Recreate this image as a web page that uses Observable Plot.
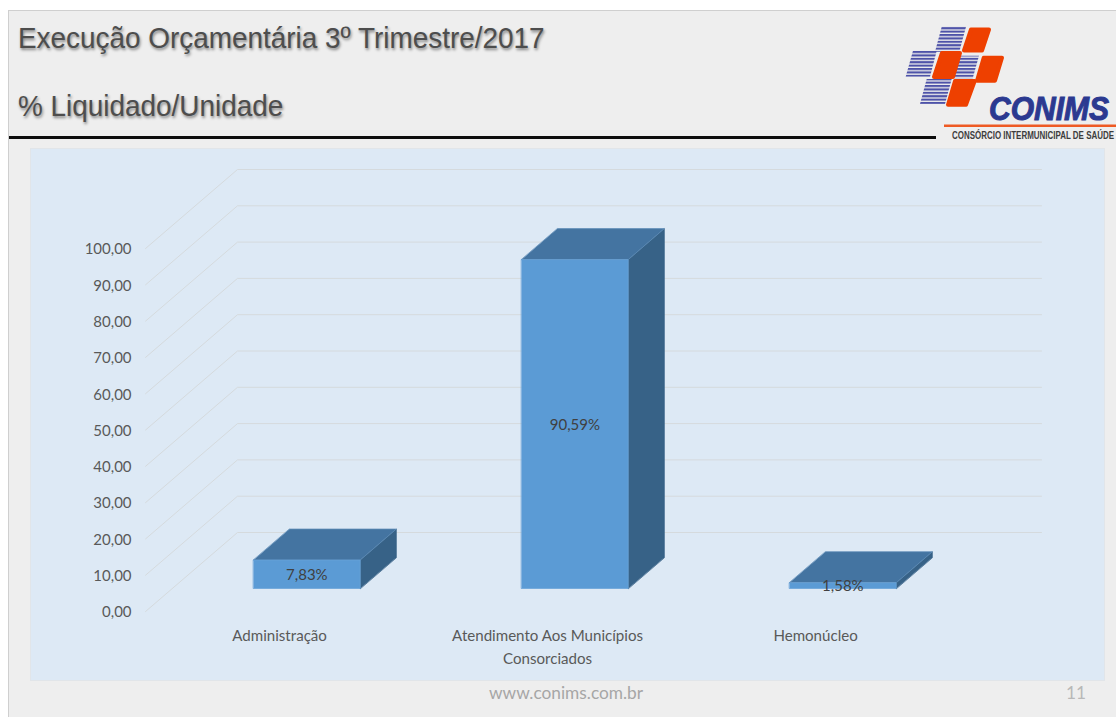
<!DOCTYPE html>
<html lang="pt-BR">
<head>
<meta charset="utf-8">
<script src="https://cdn.jsdelivr.net/npm/d3@7"></script>
<script src="https://cdn.jsdelivr.net/npm/@observablehq/plot@0.6"></script>
<style>
  html, body { margin: 0; padding: 0; background: #fff; }
  #slide { position: relative; width: 1116px; height: 717px; overflow: hidden; background: #fff; }
  #bg { position: absolute; left: 8px; top: 10px; right: -2px; bottom: -2px; background: #eeeeee; border: 1px solid #cfcfcf; }
  #rule { position: absolute; left: 9px; top: 136px; width: 927px; height: 3px; background: #0c0c0c; }
  #panel { position: absolute; left: 30px; top: 148px; width: 1073px; height: 531px; background: #dde9f5; border: 1px solid #e1e5e9; }
  .title { position: absolute; left: 18px; font: 30px "Liberation Sans", Arial, sans-serif; color: #4d4d4d;
           text-shadow: 1px 2px 3px rgba(0,0,0,.45); white-space: nowrap; transform: scaleX(.93); transform-origin: left center; }
  .foot { position: absolute; top: 682px; font: 17.3px Lato, sans-serif; color: #a6a6a6; white-space: nowrap; }
  #logo, #chart { position: absolute; left: 0; top: 0; }
  #chart svg { display: block; background: transparent; }
</style>
</head>
<body>
<div id="slide">
  <div id="bg"></div>
  <div id="rule"></div>
  <div id="panel"></div>
  <div class="title" style="top:21px">Execução Orçamentária 3º Trimestre/2017</div>
  <div class="title" style="top:89px">% Liquidado/Unidade</div>
  <svg id="logo" width="1116" height="150" viewBox="0 0 1116 150">
    <defs>
      <pattern id="stripes" width="4" height="3.4" patternUnits="userSpaceOnUse">
        <rect width="4" height="2.1" fill="#4d52a8"/>
      </pattern>
    </defs>
    <g fill="url(#stripes)">
      <polygon points="941.7,26.7 966,26.7 959.3,51.7 935,51.7"/>
      <polygon points="913,50.7 936.7,50.7 930,76.7 905.7,76.7"/>
      <polygon points="958,55.7 979,55.7 972.7,78.3 952.7,78.3"/>
      <polygon points="926.7,79 951.7,79 945,104 920,104"/>
    </g>
    <g fill="#ee4000" stroke="#ee4000" stroke-width="4" stroke-linejoin="round">
      <polygon points="971,29.5 989,29.5 982,50.5 964,50.5"/>
      <polygon points="942,53 960,53 953,77 934,77"/>
      <polygon points="983.7,57.7 1002,57.7 995,80.7 977,80.7"/>
      <polygon points="955,81 974.7,81 966,104.7 948,104.7"/>
    </g>
    <text transform="translate(989,120) scale(1,1.16)" textLength="120" lengthAdjust="spacingAndGlyphs" font-family="Liberation Sans" font-weight="700" font-style="italic" font-size="29" fill="#2b3990" stroke="#2b3990" stroke-width="0.9">CONIMS</text>
    <rect x="944" y="124.5" width="172" height="2.5" fill="#ee5a24"/>
    <text transform="translate(952,139) scale(1,1.3)" textLength="162" lengthAdjust="spacingAndGlyphs" font-family="Liberation Sans Narrow, Liberation Sans" font-weight="700" font-size="7.9" fill="#3d3d3d">CONSÓRCIO INTERMUNICIPAL DE SAÚDE</text>
  </svg>
  <div id="chart"></div>
  <div class="foot" style="left:489px">www.conims.com.br</div>
  <div class="foot" style="left:1066px;color:#b8b8b8">11</div>
</div>
<script>
// Data
const categories = ["Administração", "Atendimento Aos Municípios\nConsorciados", "Hemonúcleo"];
const values = [7.83, 90.59, 1.58];
const valueLabels = ["7,83%", "90,59%", "1,58%"];
const yTicks = [0, 10, 20, 30, 40, 50, 60, 70, 80, 90, 100];
const tickLabels = ["0,00", "10,00", "20,00", "30,00", "40,00", "50,00", "60,00", "70,00", "80,00", "90,00", "100,00"];

// Oblique projection of the 3-D chart box, in scale units
const depthX = -0.343;   // x units moved from back wall (0) to front edge (1)
const depthY = -21.76;   // value units moved from back wall to front edge
const barFront = 0.709, barBack = 0.316, barHalf = 0.199, barShift = 0.002;
const at = (x, v, d) => ({x: x + depthX * d, y: v + depthY * d});

const colors = {front: "#5b9bd5", top: "#4474a1", side: "#376287", grid: "#d5dadd", text: "#595959", label: "#404040"};

const grid = yTicks.map((v) => [at(0, v, 1), at(0, v, 0), at(3, v, 0)]).flatMap((p, i) => p.map((q) => ({...q, z: i})));

const face = (fn) => values.flatMap((v, i) => fn(i + 0.5 + barShift, v).map((p) => ({...p, z: i})));
const frontFaces = face((c, v) => [at(c - barHalf, 0, barFront), at(c + barHalf, 0, barFront), at(c + barHalf, v, barFront), at(c - barHalf, v, barFront)]);
const topFaces = face((c, v) => [at(c - barHalf, v, barFront), at(c + barHalf, v, barFront), at(c + barHalf, v, barBack), at(c - barHalf, v, barBack)]);
const sideFaces = face((c, v) => [at(c + barHalf, 0, barFront), at(c + barHalf, v, barFront), at(c + barHalf, v, barBack), at(c + barHalf, 0, barBack)]);

const polygon = (data, fill, stroke) => Plot.line(data, {x: "x", y: "y", z: "z", curve: "linear-closed", fill, stroke, strokeWidth: 0.75});

const textFont = "Lato, sans-serif";

const chart = Plot.plot({
  width: 1116,
  height: 717,
  margin: 0,
  x: {type: "linear", domain: [0, 3], range: [237, 1041], axis: null},
  y: {type: "linear", domain: [0, 100], range: [532, 169], axis: null},
  style: {background: "transparent"},
  marks: [
    Plot.line(grid, {x: "x", y: "y", z: "z", stroke: colors.grid, strokeWidth: 1}),
    polygon(sideFaces, colors.side, colors.side),
    polygon(topFaces, colors.top, "#5f8db8"),
    polygon(frontFaces, colors.front, "#6aa3d8"),
    Plot.text(yTicks, {
      x: () => at(0, 0, 1).x,
      y: (v) => at(0, v, 1).y,
      text: (v, i) => tickLabels[i],
      textAnchor: "end",
      dx: -14,
      dy: 1,
      fill: colors.text,
      fontFamily: textFont,
      fontSize: 15
    }),
    Plot.text(categories, {
      x: (c, i) => at(i + 0.5, 0, 1).x,
      y: () => at(0, 0, 1).y,
      text: (c) => c,
      lineAnchor: "top",
      lineHeight: 1.52,
      dy: 13,
      fill: colors.text,
      fontFamily: textFont,
      fontSize: 15.1
    }),
    Plot.text(values, {
      x: (v, i) => at(i + 0.5 + barShift, 0, barFront).x,
      y: (v) => at(0, v / 2, barFront).y,
      text: (v, i) => valueLabels[i],
      dy: 1,
      fill: colors.label,
      fontFamily: textFont,
      fontSize: 15
    })
  ]
});
document.getElementById("chart").appendChild(chart);
</script>
</body>
</html>
